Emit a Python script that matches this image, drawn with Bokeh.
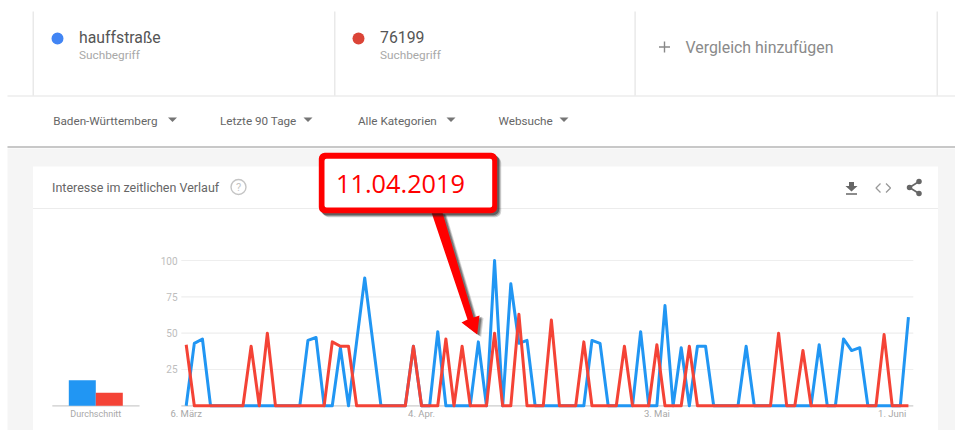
from bokeh.plotting import figure
from bokeh.models import Range1d, ColumnDataSource
from bokeh.core.properties import value
from bokeh.embed import file_html
from bokeh.resources import INLINE

# --- data ---
hauff = [0,43,46,0,0,0,0,0,0,0,0,0,0,0,0,45,47,0,0,40,0,44,88,44,0,0,0,0,41,0,
         0,51,0,0,0,0,44,0,100,0,84,43,45,0,0,0,0,0,0,0,45,43,0,0,0,0,51,0,0,69,
         0,40,0,41,41,0,0,0,0,41,0,0,0,0,0,0,0,0,42,0,0,46,38,40,0,0,0,0,0,61]
z76199 = [42,0,0,0,0,0,0,0,41,0,50,0,0,0,0,0,0,0,44,41,41,0,0,0,0,0,0,0,41,0,
          0,0,46,0,41,0,0,0,50,0,0,63,0,0,0,59,0,0,0,44,0,0,0,0,41,0,0,0,42,0,
          0,0,41,0,0,0,0,0,0,0,0,0,0,50,0,0,38,0,0,0,0,0,0,0,0,0,49,0,0,0]
avg_values = [17.5, 9]
avg_label = "Durchschnitt"
y_ticks = [25, 50, 75, 100]
x_ticks = [0, 29, 58, 87]
x_labels = ["6. März", "4. Apr.", "3. Mai", "1. Juni"]
terms = ["hauffstraße", "76199"]
filters = ["Baden-Württemberg", "Letzte 90 Tage", "Alle Kategorien", "Websuche"]

BLUE, RED = "#2196f3", "#f44336"
FONT = value("Roboto")

# the frame fills the figure, which fills the window
L, T, W, H = 0, 0, 955, 430
PX0, PXS = 185.7, 8.115
PY0, PYS = 405.3, 1.453

p = figure(width=W, height=H, toolbar_location=None, output_backend="svg",
           x_range=Range1d((L - PX0) / PXS, (L + W - PX0) / PXS),
           y_range=Range1d((PY0 - (T + H)) / PYS, (PY0 - T) / PYS),
           min_border=0, outline_line_color=None, background_fill_color="white",
           border_fill_color="white")
p.axis.visible = False
p.grid.visible = False
p.extra_x_ranges["px"] = Range1d(L, L + W)
p.extra_y_ranges["px"] = Range1d(T + H, T)
p.extra_x_ranges["avg"] = Range1d((L - 81.8) / 27, (L + W - 81.8) / 27)
PX = dict(x_range_name="px", y_range_name="px")

def rect(x0, y0, x1, y1, color, **kw):
    p.quad(left=[x0], right=[x1], top=[y0], bottom=[y1], fill_color=color,
           line_color=None, **PX, **kw)

def line(xs, ys, color, width=1.0, **kw):
    p.line(xs, ys, line_color=color, line_width=width, **PX, **kw)

def txt(x, y, s, size, color, align="left", font=FONT):
    p.text([x], [y], text=[s], text_font=font, text_font_size=f"{size}px",
           text_color=color, text_align=align, text_baseline="middle", **PX)

def caret(x, y, color="#757575"):
    p.patch([x - 4.5, x + 4.5, x], [y - 2, y - 2, y + 2.5], fill_color=color,
            line_color=None, **PX)

def round_box(x0, y0, x1, y1, radius, color, alpha=1.0):
    p.quad(left=[x0 + radius], right=[x1 - radius], top=[y0 + radius], bottom=[y1 - radius],
           fill_color=color, fill_alpha=alpha, line_color=color, line_alpha=alpha,
           line_width=radius * 2, line_join="round", **PX)

# page chrome
rect(7, 148, L + W, T + H, "#f5f5f5")
rect(32.5, 166, 937.5, T + H, "#ffffff")
line([7, L + W], [95.5, 95.5], "#e4e4e4", 1.2)
line([7, L + W], [146.5, 146.5], "#c8c8c8", 2)
line([32.5, 937.5], [208, 208], "#ececec", 1.2)
for vx in [32.7, 334.3, 634.6, 936.7]:
    line([vx, vx], [11, 95], "#e4e4e4", 1.2)

# search terms
p.scatter([57], [38], size=12, fill_color="#4285f4", line_color=None, **PX)
p.scatter([358], [38], size=12, fill_color="#db4437", line_color=None, **PX)
txt(78.5, 36.5, terms[0], 15.8, "#555555")
txt(379.5, 36.5, terms[1], 15.8, "#555555")
txt(78.5, 54.5, "Suchbegriff", 11.8, "#a8a8a8")
txt(379.5, 54.5, "Suchbegriff", 11.8, "#a8a8a8")
line([658.5, 669.5], [46.5, 46.5], "#888888", 1.4)
line([664, 664], [41, 52], "#888888", 1.4)
txt(685, 46.5, "Vergleich hinzufügen", 15.9, "#8a8a8a")

# filters
for fx, cx, s in zip([52.7, 219.5, 357.5, 498], [172, 307.5, 450.5, 563.5], filters):
    txt(fx, 120, s, 11.7, "#666666")
    caret(cx, 119)

# card header
txt(51.5, 187, "Interesse im zeitlichen Verlauf", 12.5, "#666666")
p.scatter([238], [186.5], size=15, fill_color=None, line_color="#c4c4c4",
          line_width=1.4, **PX)
txt(238, 187, "?", 11, "#c4c4c4", align="center")

# download / code / share icons
p.patch([848.5, 853.5, 853.5, 857, 851, 845, 848.5], [181.5, 181.5, 185.5, 185.5, 191, 185.5, 185.5],
        fill_color="#666666", line_color=None, **PX)
line([845.5, 856.5], [193.5, 193.5], "#666666", 1.6)
line([880, 875.5, 880], [183, 187.5, 192], "#999999", 1.3)
line([885.5, 890, 885.5], [183, 187.5, 192], "#999999", 1.3)
line([918.5, 909, 918.5], [181, 187, 193], "#666666", 1.6)
p.scatter([918.5, 909, 918.5], [181, 187, 193], size=5.5, fill_color="#666666", line_color=None, **PX)

# gridlines and axis texts, in data coordinates
GL, GR = -0.6, 89.6
p.segment(x0=[GL] * len(y_ticks), x1=[GR] * len(y_ticks), y0=y_ticks, y1=y_ticks,
          line_color="#eeeeee", line_width=1.2)
p.segment(x0=[GL], x1=[GR], y0=[0], y1=[0], line_color="#cccccc", line_width=1.2)
p.text(x=[-1.07] * len(y_ticks), y=y_ticks, text=[str(t) for t in y_ticks],
       text_font=FONT, text_font_size="10px", text_color="#bdbdbd",
       text_align="right", text_baseline="middle")
p.text(x=x_ticks, y=[-5.5] * 4, text=x_labels, text_font=FONT, text_font_size="9.5px",
       text_color="#a8a8a8", text_align="center", text_baseline="middle")

# average bars
p.segment(x0=[-1.11], x1=[2.12], y0=[0], y1=[0], x_range_name="avg",
          line_color="#cccccc", line_width=1.2)
p.vbar(x=[0], width=1, top=[avg_values[0]], bottom=0, x_range_name="avg",
       fill_color=BLUE, line_color=None)
p.vbar(x=[1], width=1, top=[avg_values[1]], bottom=0, x_range_name="avg",
       fill_color=RED, line_color=None)
p.text(x=[0.5], y=[-5.5], text=[avg_label], x_range_name="avg", text_font=FONT,
       text_font_size="9px", text_color="#a8a8a8", text_align="center",
       text_baseline="middle")

# series
xs = list(range(len(hauff)))
src = ColumnDataSource(dict(x=xs, a=hauff, b=z76199))
p.line("x", "a", source=src, line_color=BLUE, line_width=3, line_join="round")
p.line("x", "b", source=src, line_color=RED, line_width=3, line_join="round")

# callout with arrow
ax = [431, 442, 473, 479, 476.7, 461, 467]
ay = [212, 212, 317, 315, 334, 322, 319]
for off, alpha in [(4, 0.18), (3, 0.25), (2, 0.35)]:
    p.patch([v + off for v in ax], [v + off * 0.6 for v in ay], fill_color="#1a1a1a",
            fill_alpha=alpha, line_color=None, **PX)
p.patch(ax, ay, fill_color="#ff0000", line_color=None, **PX)
for off, alpha in [(4, 0.2), (3, 0.3), (2, 0.45)]:
    round_box(318.3 + off, 152.3 + off, 496.7 + off, 212.7 + off, 6, "#1a1a1a", alpha)
round_box(318.3, 152.3, 496.7, 212.7, 6, "#ff0000")
round_box(324, 158.3, 491.7, 207, 2, "#ffffff")
txt(335.5, 183.5, "11.04.2019", 25.3, "#ff0000", font=value("Open Sans"))

open("out.html", "w").write(file_html(p, INLINE))
